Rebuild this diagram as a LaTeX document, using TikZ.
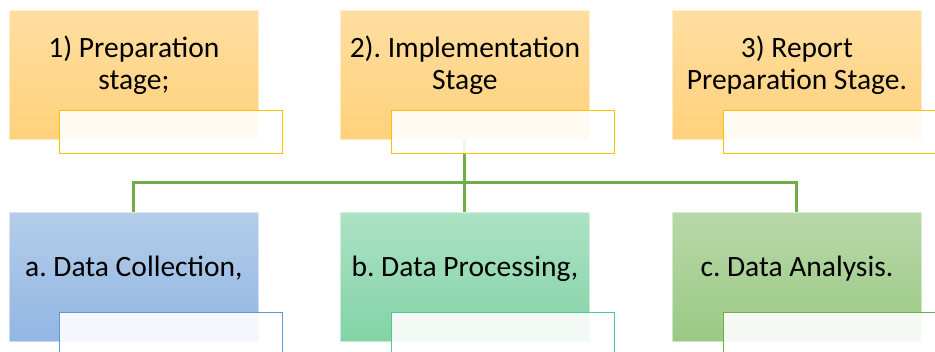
\documentclass[tikz,border=0pt]{standalone}
\usepackage{fontspec}
\setmainfont{Carlito}
\frenchspacing
\definecolor{orTop}{HTML}{FFDEA0}
\definecolor{orBot}{HTML}{FFD17B}
\definecolor{orLine}{HTML}{FFC000}
\definecolor{blTop}{HTML}{B4CDEA}
\definecolor{blBot}{HTML}{92B6E3}
\definecolor{blLine}{HTML}{5B9BD5}
\definecolor{tlTop}{HTML}{ADE2C5}
\definecolor{tlBot}{HTML}{82D3A6}
\definecolor{tlLine}{HTML}{52C78E}
\definecolor{gnTop}{HTML}{B8D8A8}
\definecolor{gnBot}{HTML}{9AC985}
\definecolor{gnLine}{HTML}{70AD47}
\tikzset{
  bigbox/.style={rectangle, minimum width=249pt, minimum height=129pt, inner sep=0pt,
    anchor=north west, draw=white, draw opacity=0.5, line width=0.8pt},
  tabbox/.style={rectangle, minimum width=223pt, minimum height=43pt, inner sep=0pt,
    anchor=north west, fill=white, fill opacity=0.9, line width=1.3pt},
  lbl/.style={anchor=base, inner sep=0pt, font=\fontsize{29.5}{33}\selectfont, text=black},
  link/.style={draw=gnLine, line width=3pt}
}
\begin{document}
\begin{tikzpicture}[x=1pt, y=-1pt]
\useasboundingbox (0,0) rectangle (935,352);
\clip (0,0) rectangle (935,352);
% upper row: the three stages
\node[bigbox, top color=orTop, bottom color=orBot] (s1) at (9,10) {};
\node[bigbox, top color=orTop, bottom color=orBot] (s2) at (340,10) {};
\node[bigbox, top color=orTop, bottom color=orBot] (s3) at (672,10) {};
% lower row: the implementation steps
\node[bigbox, top color=blTop, bottom color=blBot] (pa) at (9,212) {};
\node[bigbox, top color=tlTop, bottom color=tlBot] (pb) at (340,212) {};
\node[bigbox, top color=gnTop, bottom color=gnBot] (pc) at (672,212) {};
% connectors from the implementation stage to its steps
\coordinate (hub) at (s2.south |- 0,182.5);
\draw[link] (s2.south) -- (hub);
\draw[link] (hub) -| (pa.north);
\draw[link] (hub) -- (pb.north);
\draw[link] (hub) -| (pc.north);
% empty tabs overlapping the lower right of each box
\node[tabbox, draw=orLine] (s1t) at (59,110) {};
\node[tabbox, draw=orLine] (s2t) at (391,110) {};
\node[tabbox, draw=orLine] (s3t) at (723,110) {};
\node[tabbox, draw=blLine] (pat) at (59,312) {};
\node[tabbox, draw=tlLine] (pbt) at (391,312) {};
\node[tabbox, draw=gnLine] (pct) at (723,312) {};
% labels
\node[lbl] (s1a) at (s1.center |- 0,58) {1) Preparation};
\node[lbl] (s1b) at (s1.center |- 0,90) {stage;};
\node[lbl] (s2a) at (s2.center |- 0,58) {2). Implementation};
\node[lbl] (s2b) at (s2.center |- 0,90) {Stage};
\node[lbl] (s3a) at (s3.center |- 0,58) {3) Report};
\node[lbl] (s3b) at (s3.center |- 0,90) {Preparation Stage.};
\node[lbl] (paa) at (pa.center |- 0,277) {a. Data Collection,};
\node[lbl] (pba) at (pb.center |- 0,277) {b. Data Processing,};
\node[lbl] (pca) at (pc.center |- 0,277) {c. Data Analysis.};
\end{tikzpicture}
\end{document}
